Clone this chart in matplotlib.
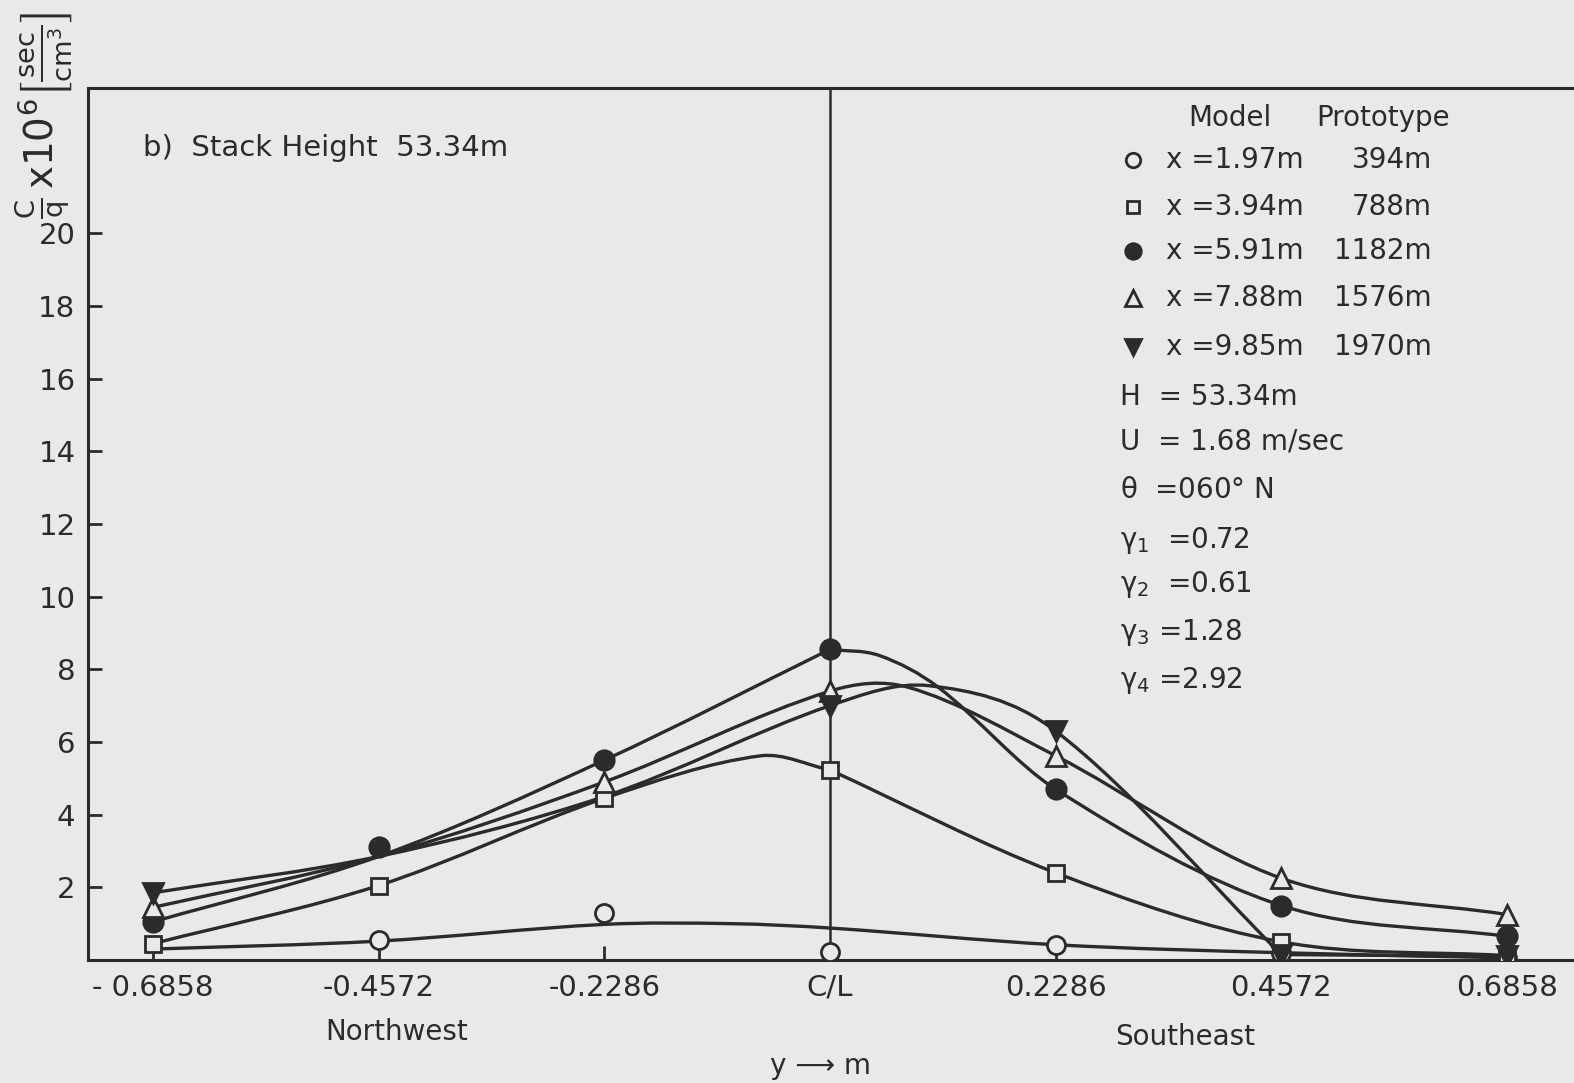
import numpy as np
import matplotlib
matplotlib.use("Agg")
import matplotlib.pyplot as plt
from matplotlib.path import Path
from matplotlib.patches import PathPatch
from matplotlib.lines import Line2D

plt.rcParams["font.family"] = ["DejaVu Sans"]
plt.rcParams["mathtext.default"] = "regular"

ink = "#2b2b2b"
paper = "#e9e9e9"

# lateral sampling positions (m) and their labels
y_pos = [-0.6858, -0.4572, -0.2286, 0.0, 0.2286, 0.4572, 0.6858]
y_labels = ["- 0.6858", "-0.4572", "-0.2286", "C/L", "0.2286", "0.4572", "0.6858"]

# measured C/q x 10^6 at each position, one list per model distance x
c_197 = [np.nan, 0.55, 1.3, 0.22, 0.4, 0.18, 0.06]
c_394 = [0.45, 2.05, 4.45, 5.23, 2.4, 0.5, 0.15]
c_591 = [1.05, 3.1, 5.5, 8.55, 4.7, 1.5, 0.65]
c_788 = [1.45, np.nan, 4.9, 7.4, 5.62, 2.25, 1.25]
c_985 = [1.85, np.nan, np.nan, 7.0, 6.3, 0.15, 0.1]

# hand-faired curves: knots (y, C/q) and indices where the curve has a corner
fit_197_x = [-0.6858, -0.4572, -0.2286, -0.1, 0.0, 0.2286, 0.4572, 0.6858]
fit_197_y = [0.3, 0.52, 0.98, 1.0, 0.88, 0.42, 0.2, 0.06]
fit_197_corner = []
fit_394_x = [-0.6858, -0.4572, -0.2286, -0.07, 0.0, 0.2286, 0.4572, 0.6858]
fit_394_y = [0.45, 2.05, 4.45, 5.62, 5.23, 2.4, 0.5, 0.12]
fit_394_corner = [4]
fit_591_x = [-0.6858, -0.4572, -0.2286, 0.0, 0.05, 0.11, 0.2286, 0.4572, 0.6858]
fit_591_y = [1.05, 2.85, 5.5, 8.55, 8.38, 7.5, 4.7, 1.5, 0.65]
fit_591_corner = [3]
fit_788_x = [-0.6858, -0.4572, -0.2286, 0.0, 0.08, 0.2286, 0.4572, 0.6858]
fit_788_y = [1.45, 2.85, 4.9, 7.4, 7.5, 5.62, 2.25, 1.25]
fit_788_corner = []
fit_985_x = [-0.6858, -0.4572, -0.2286, 0.0, 0.1, 0.2286, 0.4572, 0.6858]
fit_985_y = [1.85, 2.85, 4.5, 7.0, 7.55, 6.3, 0.15, 0.1]
fit_985_corner = [6]

legend_model = ["x =1.97m", "x =3.94m", "x =5.91m", "x =7.88m", "x =9.85m"]
legend_proto = ["394m", "788m", "1182m", "1576m", "1970m"]
params = ["H  = 53.34m", "U  = 1.68 m/sec", r"$\theta$  =060° N",
          r"$\gamma_1$  =0.72", r"$\gamma_2$  =0.61", r"$\gamma_3$ =1.28", r"$\gamma_4$ =2.92"]


def faired_path(xs, ys, corners):
    # cubic Hermite segments written as Bezier curves
    n = len(xs)
    codes = [Path.MOVETO]
    verts = [(xs[0], ys[0])]

    def slope(a, b):
        return (ys[b] - ys[a]) / (xs[b] - xs[a])

    for i in range(n - 1):
        if i == 0 or i in corners:
            m0 = slope(i, i + 1)
        else:
            m0 = slope(i - 1, i + 1)
        if i + 1 == n - 1 or (i + 1) in corners:
            m1 = slope(i, i + 1)
        else:
            m1 = slope(i, i + 2)
        h = xs[i + 1] - xs[i]
        verts += [(xs[i] + h / 3, ys[i] + m0 * h / 3),
                  (xs[i + 1] - h / 3, ys[i + 1] - m1 * h / 3),
                  (xs[i + 1], ys[i + 1])]
        codes += [Path.CURVE4] * 3
    return Path(verts, codes)


fig = plt.figure(figsize=(15.74, 10.83), dpi=100, facecolor=paper)
ax = fig.add_axes([88 / 1574, 1 - 960 / 1083, 1 - 88 / 1574, (960 - 88) / 1083])
ax.set_facecolor(paper)

px_per_m = 225.7 / 0.2286
ax.set_xlim(-0.6858 - 65 / px_per_m, 0.6858 + 67 / px_per_m)
ax.set_ylim(0, 24)

for s in ["left", "top", "bottom"]:
    ax.spines[s].set_linewidth(2.2)
    ax.spines[s].set_color(ink)
ax.spines["right"].set_visible(False)

ax.axvline(0, color=ink, lw=1.8, zorder=1)

fits = [(fit_197_x, fit_197_y, fit_197_corner),
        (fit_394_x, fit_394_y, fit_394_corner),
        (fit_591_x, fit_591_y, fit_591_corner),
        (fit_788_x, fit_788_y, fit_788_corner),
        (fit_985_x, fit_985_y, fit_985_corner)]
for fx_, fy_, fc in fits:
    ax.add_patch(PathPatch(faired_path(fx_, fy_, fc), facecolor="none",
                           edgecolor=ink, lw=2.4, zorder=2, capstyle="round"))

styles = [("o", paper, 13), ("s", paper, 11), ("o", ink, 14), ("^", paper, 14), ("v", ink, 14)]
series = [c_197, c_394, c_591, c_788, c_985]
for vals, (m, fc, ms) in zip(series, styles):
    ax.plot(y_pos, vals, ls="none", marker=m, ms=ms, mfc=fc, mec=ink, mew=2.0, zorder=3)

ax.set_xticks(y_pos)
ax.set_xticklabels(y_labels)
ax.set_yticks(range(2, 21, 2))
ax.tick_params(axis="both", direction="in", length=10, width=2, color=ink,
               labelcolor=ink, labelsize=21)
ax.tick_params(axis="x", pad=10)
ax.tick_params(axis="y", pad=9)


def fx(px):
    return px / 1574


def fy(py):
    return 1 - py / 1083


txt = dict(color=ink, va="center")
fig.text(fx(143), fy(148), "b)  Stack Height  53.34m", fontsize=21, **txt)
fig.text(fx(1188), fy(118), "Model", fontsize=20, **txt)
fig.text(fx(1316), fy(118), "Prototype", fontsize=20, **txt)

row_y = [160, 207, 251, 298, 347]
for (m, fc, ms), ry, lm, lp in zip(styles, row_y, legend_model, legend_proto):
    fig.add_artist(Line2D([fx(1133)], [fy(ry)], marker=m, ms=ms * 0.8, mfc=fc, mec=ink,
                          mew=2.0, ls="none", transform=fig.transFigure))
    fig.text(fx(1166), fy(ry), lm, fontsize=20, **txt)
    fig.text(fx(1432), fy(ry), lp, fontsize=20, ha="right", **txt)

param_y = [397, 441, 490, 540, 585, 632, 680]
for py, p in zip(param_y, params):
    fig.text(fx(1120), fy(py), p, fontsize=20, **txt)

fig.text(fx(397), fy(1032), "Northwest", fontsize=20, ha="center", **txt)
fig.text(fx(1185), fy(1037), "Southeast", fontsize=20, ha="center", **txt)
fig.text(fx(820), fy(1066), "y \u27f6 m", fontsize=20, ha="center", **txt)

fig.text(fx(44), fy(115),
         r"$\frac{C}{q}\,$x10$^6\left[\frac{sec}{cm^3}\right]$",
         fontsize=28, rotation=90, ha="center", va="center", color=ink)

fig.savefig("out.png", dpi=100, facecolor=paper)
